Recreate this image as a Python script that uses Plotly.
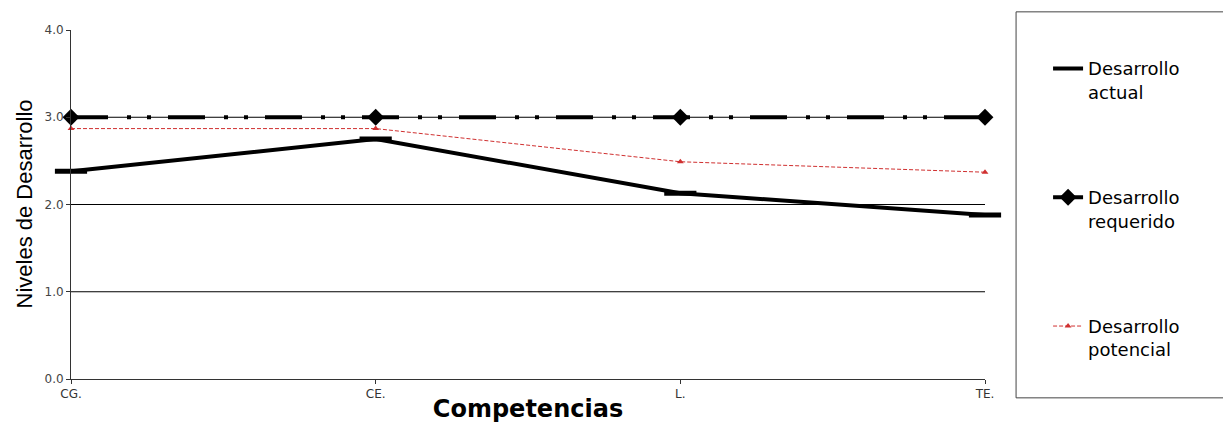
import plotly.graph_objects as go

categories = ["CG.", "CE.", "L.", "TE."]
actual = [2.38, 2.75, 2.13, 1.88]
required = [3.0, 3.0, 3.0, 3.0]
potential = [2.87, 2.87, 2.49, 2.37]
y_ticks = [0, 1, 2, 3, 4]
grid_levels = [1, 2, 3]

fig = go.Figure()

fig.add_trace(go.Scatter(
    x=categories, y=actual, name="Desarrollo<br>actual", legendgroup="a",
    mode="lines", cliponaxis=False,
    line=dict(color="black", width=4),
))
fig.add_trace(go.Scatter(
    x=categories, y=actual, legendgroup="a", showlegend=False,
    mode="markers", cliponaxis=False, hoverinfo="skip",
    marker=dict(symbol="line-ew", size=23, line=dict(color="black", width=5), color="black"),
))
fig.add_trace(go.Scatter(
    x=categories, y=required, name="Desarrollo<br>requerido", legendgroup="r",
    mode="lines+markers", cliponaxis=False,
    line=dict(color="black", width=4, dash="37px,19px,4px,16px,4px,17px"),
    marker=dict(symbol="diamond", size=13, color="black"),
))
fig.add_trace(go.Scatter(
    x=categories, y=potential, name="Desarrollo<br>potencial", legendgroup="p",
    mode="lines+markers", cliponaxis=False,
    line=dict(color="#d03030", width=1, dash="4px,2px"),
    marker=dict(symbol="triangle-up", size=6, color="#d03030"),
))

for g in grid_levels:
    fig.add_shape(type="line", xref="paper", x0=0, x1=1, yref="y", y0=g, y1=g,
                  line=dict(color="black", width=1), layer="below")

fig.add_shape(type="rect", xref="paper", yref="paper",
              x0=1.034, x1=1.262, y0=-0.054, y1=1.052,
              line=dict(color="#444444", width=1))

fig.add_annotation(
    text="Niveles de Desarrollo", textangle=-90,
    xref="paper", yref="paper", x=(24 - 71) / 914, y=0.5,
    xanchor="center", yanchor="middle", showarrow=False,
    font=dict(family="Liberation Sans, Arial, sans-serif", size=22, color="black"),
)

fig.update_layout(
    width=1223, height=423,
    margin=dict(l=71, r=238, t=30, b=44, autoexpand=False),
    plot_bgcolor="white", paper_bgcolor="white",
    font=dict(family="DejaVu Sans, sans-serif", color="black"),
    showlegend=True,
    legend=dict(
        x=1.069, xanchor="left", y=0.942, yanchor="top", valign="top",
        font=dict(size=18, color="black"),
        traceorder="grouped", tracegroupgap=79,
        bgcolor="rgba(0,0,0,0)", borderwidth=0,
    ),
    xaxis=dict(
        type="category", range=[0, 3], showgrid=False, automargin=False,
        showline=True, linecolor="#333333", linewidth=1,
        ticks="outside", ticklen=4, tickcolor="#333333",
        tickfont=dict(size=12, color="#333333"),
        title=dict(text="<b>Competencias</b>", font=dict(size=24, color="black"), standoff=3),
    ),
    yaxis=dict(
        range=[0, 4], tickvals=y_ticks, tickformat=".1f", showgrid=False, zeroline=False,
        automargin=False,
        showline=True, linecolor="#333333", linewidth=1,
        ticks="outside", ticklen=4, tickcolor="#333333",
        tickfont=dict(size=12, color="#444444"),
    ),
)

fig.write_html("out.html", config={"displayModeBar": False},
               post_script="document.body.style.margin='0';")
